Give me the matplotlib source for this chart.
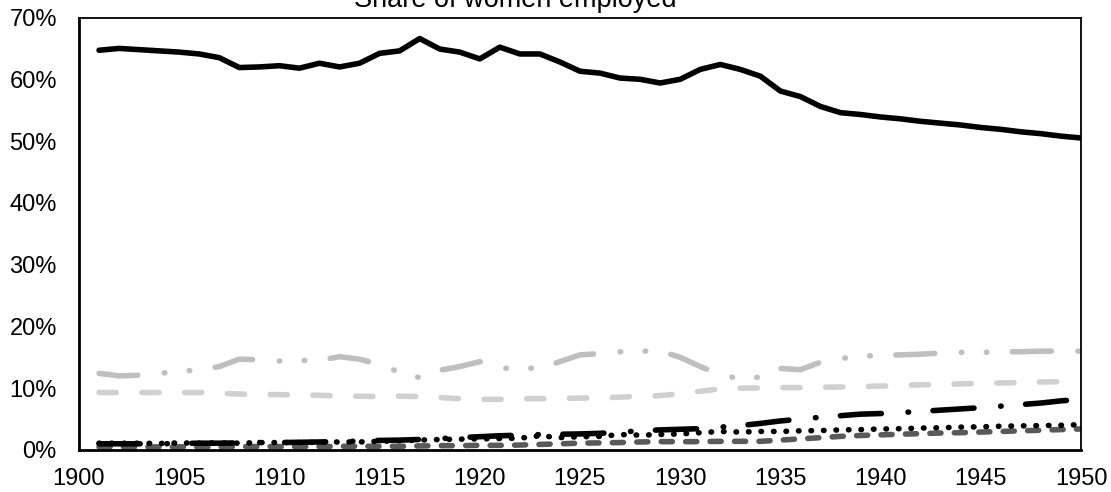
import matplotlib
matplotlib.use("Agg")
import matplotlib.pyplot as plt
from matplotlib.ticker import PercentFormatter

plt.rcParams['font.family'] = ['Liberation Sans', 'DejaVu Sans']

years = list(range(1901, 1951))

share_solid = [64.7, 65.0, 64.8, 64.6, 64.4, 64.1, 63.5, 61.9, 62.0, 62.2,
               61.8, 62.6, 62.0, 62.6, 64.2, 64.6, 66.6, 64.9, 64.4, 63.3,
               65.2, 64.1, 64.1, 62.8, 61.3, 61.0, 60.2, 60.0, 59.4, 60.0,
               61.6, 62.4, 61.6, 60.5, 58.1, 57.2, 55.6, 54.6, 54.3, 53.9,
               53.6, 53.2, 52.9, 52.6, 52.2, 51.9, 51.5, 51.2, 50.8, 50.5]

share_dashdotdot = [12.4, 12.0, 12.1, 12.4, 12.7, 13.0, 13.5, 14.7, 14.6, 14.4,
                    14.5, 14.5, 15.1, 14.7, 13.8, 12.6, 11.7, 12.9, 13.5, 14.3,
                    13.2, 13.3, 13.2, 14.3, 15.4, 15.6, 15.9, 16.0, 16.0, 15.0,
                    13.5, 12.2, 11.5, 11.8, 13.2, 13.0, 14.2, 14.8, 15.2, 15.3,
                    15.4, 15.5, 15.7, 15.8, 15.8, 15.9, 15.9, 16.0, 16.0, 16.0]

share_lightdash = [9.3, 9.3, 9.3, 9.3, 9.3, 9.3, 9.2, 9.05, 9.0, 8.95,
                   8.9, 8.85, 8.75, 8.7, 8.65, 8.7, 8.65, 8.5, 8.3, 8.2,
                   8.2, 8.3, 8.3, 8.35, 8.4, 8.45, 8.55, 8.7, 8.8, 9.1,
                   9.5, 9.9, 10.0, 10.05, 10.1, 10.1, 10.15, 10.2, 10.25, 10.35,
                   10.45, 10.55, 10.6, 10.7, 10.8, 10.85, 10.9, 11.0, 11.05, 11.1]

share_dashdot = [1.0, 1.0, 1.0, 1.0, 1.05, 1.1, 1.1, 1.15, 1.2, 1.2,
                 1.25, 1.3, 1.35, 1.45, 1.55, 1.6, 1.7, 1.85, 2.0, 2.15,
                 2.3, 2.4, 2.5, 2.55, 2.6, 2.7, 2.9, 3.1, 3.25, 3.35,
                 3.45, 3.7, 3.95, 4.3, 4.7, 5.0, 5.3, 5.55, 5.8, 5.9,
                 6.05, 6.25, 6.45, 6.65, 6.85, 7.1, 7.35, 7.6, 7.95, 8.2]

share_dotted = [1.1, 1.1, 1.1, 1.05, 1.15, 1.1, 1.15, 1.1, 1.2, 1.2,
                1.2, 1.25, 1.3, 1.3, 1.4, 1.5, 1.6, 1.7, 1.75, 1.8,
                1.85, 1.9, 2.3, 2.0, 2.15, 2.2, 2.5, 2.4, 2.5, 2.6,
                2.8, 3.0, 2.9, 3.0, 3.0, 3.1, 3.15, 3.25, 3.3, 3.4,
                3.45, 3.55, 3.6, 3.7, 3.75, 3.85, 3.9, 3.95, 4.0, 4.1]

share_darkdash = [0.5, 0.5, 0.5, 0.5, 0.5, 0.5, 0.5, 0.55, 0.55, 0.55,
                  0.55, 0.55, 0.6, 0.6, 0.6, 0.6, 0.65, 0.7, 0.7, 0.75,
                  0.75, 0.8, 0.9, 1.0, 1.1, 1.15, 1.2, 1.3, 1.35, 1.35,
                  1.35, 1.4, 1.4, 1.4, 1.6, 1.8, 2.0, 2.2, 2.35, 2.45,
                  2.55, 2.65, 2.75, 2.8, 2.9, 3.0, 3.1, 3.2, 3.3, 3.4]

title = "Share of women employed"
x_ticks = list(range(1900, 1951, 5))
y_ticks = [0, 10, 20, 30, 40, 50, 60, 70]

fig = plt.figure(figsize=(11.11, 4.92), dpi=100)
ax = fig.add_axes([0.0711, 0.0854, 0.9019, 0.879])

lw = 4.0
common = dict(lw=lw, dash_capstyle='round', solid_capstyle='round', solid_joinstyle='round')

ax.plot(years, share_solid, color='black', linestyle='-', **common)
ax.plot(years, share_dashdotdot, color='#bfbfbf',
        linestyle=(0, (7.0, 4.8, 0.1, 4.4, 0.1, 4.6)), **common)
ax.plot(years, share_lightdash, color='#d0d0d0',
        linestyle=(0, (3.1, 4.6)), **common)
ax.plot(years, share_darkdash, color='#595959',
        linestyle=(0, (2.0, 2.4)), **common)
ax.plot(years, share_dotted, color='black',
        linestyle=(0, (0.1, 2.15)), **common)
ax.plot(years, share_dashdot, color='black',
        linestyle=(0, (7.4, 4.8, 0.1, 4.4)), **common)

ax.set_xlim(1900, 1950)
ax.set_ylim(0, 70)
ax.set_xticks(x_ticks)
ax.set_yticks(y_ticks)
ax.yaxis.set_major_formatter(PercentFormatter(100, decimals=0))
ax.tick_params(axis='both', length=0, labelsize=17)
ax.tick_params(axis='y', pad=16)
ax.tick_params(axis='x', pad=13)
for s in ['left', 'bottom']:
    ax.spines[s].set_linewidth(2)
for s in ['top', 'right']:
    ax.spines[s].set_linewidth(1.3)

fig.text(0.4635, 0.9858, title, ha='center', va='baseline', fontsize=19.5)

fig.savefig("out.png", dpi=100)
